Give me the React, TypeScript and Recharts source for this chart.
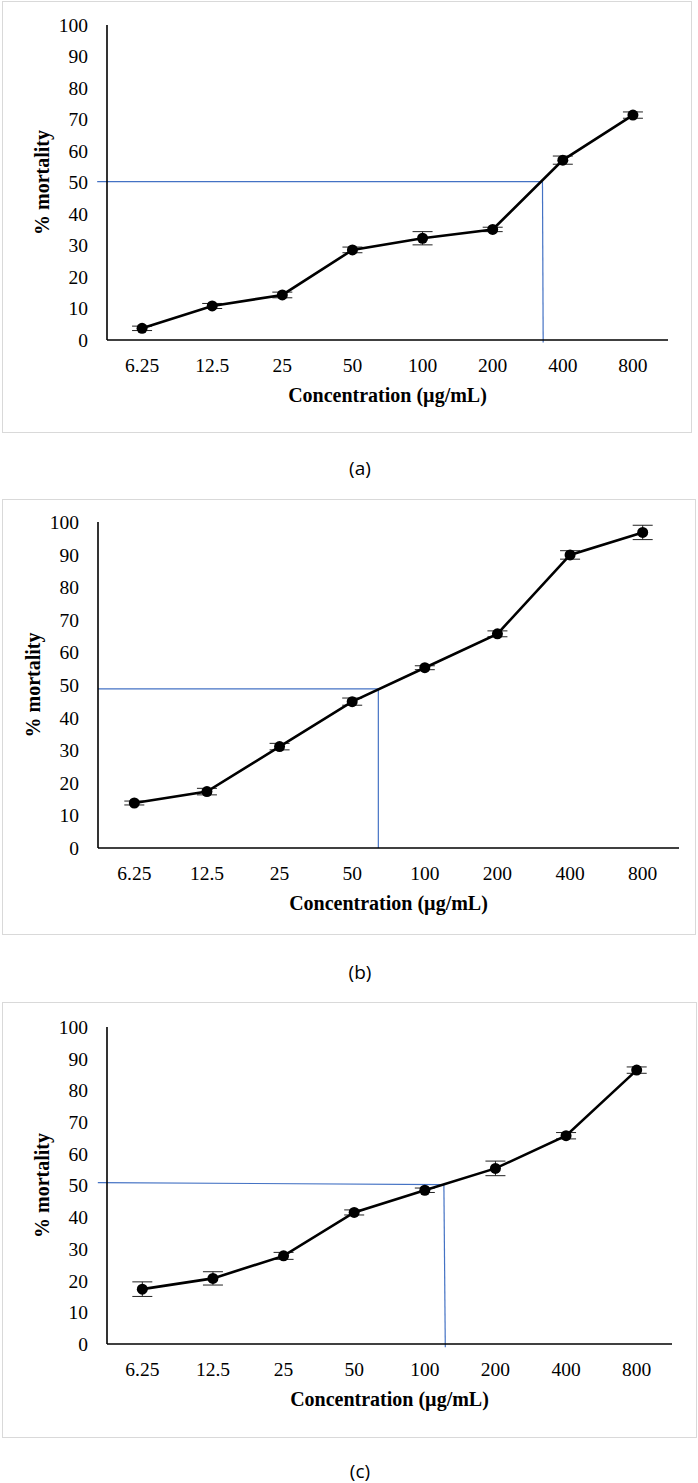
import React from 'react';
import {
  ErrorBar,
  Line,
  LineChart,
  ReferenceLine,
  XAxis,
  YAxis,
} from 'recharts';

const categories = ['6.25', '12.5', '25', '50', '100', '200', '400', '800'];
const yTicks = [0, 10, 20, 30, 40, 50, 60, 70, 80, 90, 100];

const mortalityA = [3.7, 10.8, 14.3, 28.6, 32.3, 35.1, 57.1, 71.4];
const errorA = [0.7, 0.8, 0.9, 0.9, 2.1, 0.7, 1.3, 1.0];

const mortalityB = [13.8, 17.3, 31.1, 44.9, 55.3, 65.7, 89.9, 96.8];
const errorB = [0.6, 1.0, 1.0, 1.1, 0.6, 0.9, 1.3, 2.2];

const mortalityC = [17.3, 20.7, 27.8, 41.5, 48.5, 55.4, 65.7, 86.4];
const errorC = [2.3, 2.1, 1.1, 0.8, 0.7, 2.3, 1.0, 1.0];

// LC50 guide lines, x in category index units
const guideA = { xStart: -0.64, yLeft: 50.3, xCross: 5.71, yCross: 50.3, xBottom: 5.72, yBottom: -0.8 };
const guideB = { xStart: -0.5, yLeft: 48.8, xCross: 3.36, yCross: 48.8, xBottom: 3.36, yBottom: 0 };
const guideC = { xStart: -0.63, yLeft: 50.9, xCross: 4.27, yCross: 50.3, xBottom: 4.29, yBottom: -1 };

const serif = '"Liberation Serif", "Times New Roman", serif';
const blue = '#4472C4';

type Guide = typeof guideA;

function buildRows(values: number[], errors: number[]) {
  return values.map((v, i) => ({ idx: i, label: categories[i], mortality: v, err: errors[i] }));
}

interface PanelProps {
  values: number[];
  errors: number[];
  guide: Guide;
  top: number;
  height: number;
  margin: { top: number; right: number; bottom: number; left: number };
  box: { left: number; top: number; width: number; height: number };
  caption: string;
  captionY: number;
}

function Panel({ values, errors, guide, top, height, margin, box, caption, captionY }: PanelProps) {
  const data = buildRows(values, errors);
  return (
    <>
      <div
        style={{
          position: 'absolute',
          left: box.left,
          top: box.top,
          width: box.width,
          height: box.height,
          border: '1.5px solid #d9d9d9',
          boxSizing: 'border-box',
        }}
      />
      <div style={{ position: 'absolute', left: 0, top }}>
        <LineChart width={698} height={height} data={data} margin={margin}>
          <XAxis
            dataKey="idx"
            type="number"
            domain={[-0.5, 7.5]}
            ticks={categories.map((_, i) => i)}
            tickFormatter={(i: number) => categories[i]}
            height={60}
            tickLine={false}
            tickSize={0}
            tickMargin={18}
            axisLine={{ stroke: '#000', strokeWidth: 1.6 }}
            fontSize={19.5}
            tick={{ fill: '#000', fontFamily: serif, fontSize: 19.5 }}
            interval={0}
            label={({ viewBox }: any) => {
              const cx = viewBox.x + viewBox.width / 2;
              const cy = viewBox.y + 55;
              return (
                <text
                  x={cx}
                  y={cy}
                  textAnchor="middle"
                  dominantBaseline="central"
                  fontFamily={serif}
                  fontWeight="bold"
                  fontSize={20}
                  fill="#000"
                >
                  Concentration (µg/mL)
                </text>
              );
            }}
          />
          <YAxis
            type="number"
            domain={[0, 100]}
            ticks={yTicks}
            width={60}
            tickLine={false}
            tickSize={0}
            tickMargin={19}
            axisLine={{ stroke: '#000', strokeWidth: 1.6 }}
            fontSize={19.5}
            tick={{ fill: '#000', fontFamily: serif, fontSize: 19.5 }}
            interval={0}
            label={({ viewBox }: any) => {
              const cx = viewBox.x + viewBox.width - 65;
              const cy = viewBox.y + viewBox.height / 2;
              return (
                <text
                  x={cx}
                  y={cy}
                  transform={`rotate(-90 ${cx} ${cy})`}
                  textAnchor="middle"
                  dominantBaseline="central"
                  fontFamily={serif}
                  fontWeight="bold"
                  fontSize={20}
                  fill="#000"
                >
                  % mortality
                </text>
              );
            }}
          />
          <ReferenceLine
            segment={[
              { x: guide.xStart, y: guide.yLeft },
              { x: guide.xCross, y: guide.yCross },
            ]}
            stroke={blue}
            strokeWidth={1.2}
            ifOverflow="visible"
          />
          <ReferenceLine
            segment={[
              { x: guide.xCross, y: guide.yCross },
              { x: guide.xBottom, y: guide.yBottom },
            ]}
            stroke={blue}
            strokeWidth={1.2}
            ifOverflow="visible"
          />
          <Line
            dataKey="mortality"
            type="linear"
            stroke="#000"
            strokeWidth={2.6}
            dot={{ r: 5.5, fill: '#000', stroke: '#000', strokeWidth: 0 }}
            activeDot={false}
            isAnimationActive={false}
          >
            <ErrorBar
              dataKey="err"
              direction="y"
              width={10}
              stroke="#222"
              strokeWidth={1}
              isAnimationActive={false}
            />
          </Line>
        </LineChart>
      </div>
      <div
        style={{
          position: 'absolute',
          left: 310,
          width: 100,
          top: captionY - 10,
          height: 20,
          lineHeight: '20px',
          textAlign: 'center',
          fontFamily: '"Open Sans", "Noto Sans", sans-serif',
          fontSize: 19,
          color: '#000',
        }}
      >
        {caption}
      </div>
    </>
  );
}

export default function App() {
  return (
    <div
      style={{
        position: 'absolute',
        left: 0,
        top: 0,
        width: 698,
        height: 1483,
        background: '#fff',
        overflow: 'hidden',
      }}
    >
      <Panel
        values={mortalityA}
        errors={errorA}
        guide={guideA}
        top={0}
        height={440}
        margin={{ top: 25, right: 30, bottom: 40, left: 47 }}
        box={{ left: 2, top: 1, width: 690, height: 432 }}
        caption="(a)"
        captionY={468}
      />
      <Panel
        values={mortalityB}
        errors={errorB}
        guide={guideB}
        top={490}
        height={450}
        margin={{ top: 32, right: 19, bottom: 32, left: 38 }}
        box={{ left: 2, top: 499, width: 694, height: 436 }}
        caption="(b)"
        captionY={972}
      />
      <Panel
        values={mortalityC}
        errors={errorC}
        guide={guideC}
        top={990}
        height={450}
        margin={{ top: 37, right: 26, bottom: 36, left: 47 }}
        box={{ left: 2, top: 1002, width: 695, height: 436 }}
        caption="(c)"
        captionY={1471}
      />
    </div>
  );
}
